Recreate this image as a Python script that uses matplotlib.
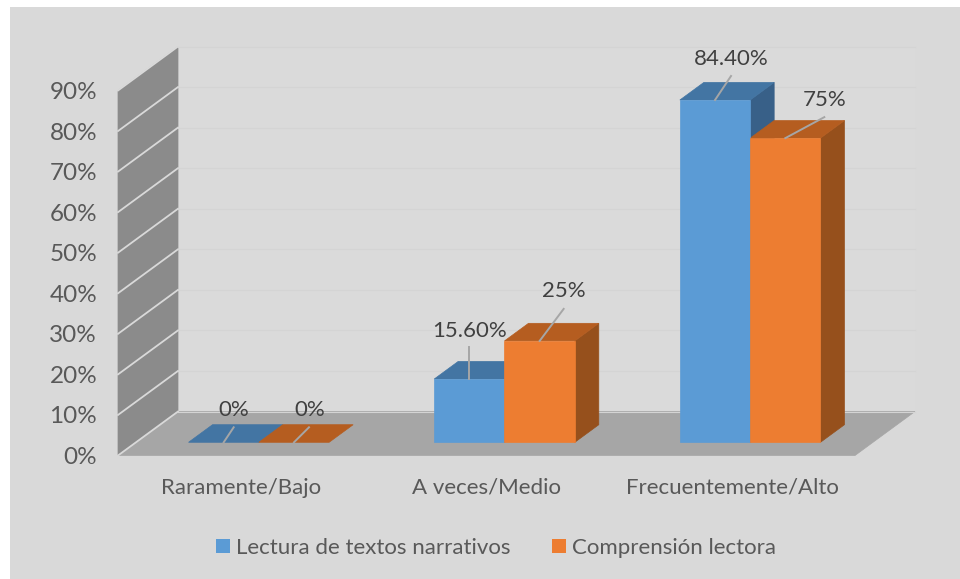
import numpy as np
import matplotlib
matplotlib.use('Agg')
import matplotlib.pyplot as plt
from matplotlib.patches import Polygon, Rectangle

# Data
categories = ['Raramente/Bajo', 'A veces/Medio', 'Frecuentemente/Alto']
lectura = [0, 15.6, 84.4]
comprension = [0, 25, 75]
lectura_labels = ['0%', '15.60%', '84.40%']
comprension_labels = ['0%', '25%', '75%']
y_ticks = [0, 10, 20, 30, 40, 50, 60, 70, 80, 90]
legend_names = ['Lectura de textos narrativos', 'Comprensión lectora']

W, H = 960, 579
BG = '#d9d9d9'
FS = 16
plt.rcParams['font.family'] = ['Lato', 'DejaVu Sans']

fig = plt.figure(figsize=(W / 100, H / 100), dpi=100, facecolor='white')

# gray card behind everything
fig.patches.append(Rectangle((10 / W, 0), 950 / W, 572 / H, transform=fig.transFigure,
                             facecolor=BG, edgecolor='none', zorder=-1))

# axes = front plane of the 3D box, in pixels
left, right, top, bottom = 118, 855, 90.5, 455.5
ax = fig.add_axes([left / W, 1 - bottom / H, (right - left) / W, (bottom - top) / H])
ax.set_xlim(0, 3)
ax.set_ylim(0, 90)
ax.patch.set_visible(False)
for s in ax.spines.values():
    s.set_visible(False)

PX = 3 / (right - left)
PY = 90 / (bottom - top)
DX = 60 * PX   # depth offset of the box
DY = 44 * PY


def proj(x, y, z):
    # oblique projection, z = 0 at front and 1 at back
    return (x + z * DX, y + z * DY)


def face(pts, color, zorder=2, **kw):
    ax.add_patch(Polygon(pts, closed=True, facecolor=color, edgecolor=color,
                         linewidth=0.5, clip_on=False, zorder=zorder, **kw))


# back wall, side wall, floor
face([proj(0, 0, 1), proj(3, 0, 1), proj(3, 90, 1), proj(0, 90, 1)], '#dadada', zorder=1)
face([proj(0, 0, 0), proj(0, 0, 1), proj(0, 90, 1), proj(0, 90, 0)], '#8b8b8b', zorder=1)
face([proj(0, 0, 0), proj(3, 0, 0), proj(3, 0, 1), proj(0, 0, 1)], '#a6a6a6', zorder=1)

for t in y_ticks:
    xs, ys = zip(proj(0, t, 0), proj(0, t, 1), proj(3, t, 1))
    ax.plot(xs[:2], ys[:2], color='#d9d9d9', lw=1.3, clip_on=False, zorder=1.5)
    ax.plot(xs[1:], ys[1:], color='#d4d4d4', lw=0.8, clip_on=False, zorder=1.5)

# bars
bar_w = 70.3 * PX
z0, z1 = 0.3, 0.7
series = [
    (lectura, -bar_w, '#5b9bd5', '#4375a3', '#386088'),
    (comprension, 0, '#ed7d31', '#b55d20', '#96501c'),
]
for i in range(3):
    cx = i + 0.5
    for vals, off, c_front, c_top, c_side in series:
        x0, x1 = cx + off, cx + off + bar_w
        v = vals[i]
        if v > 0:
            face([proj(x1, 0, z0), proj(x1, 0, z1), proj(x1, v, z1), proj(x1, v, z0)], c_side, zorder=3)
            face([proj(x0, 0, z0), proj(x1, 0, z0), proj(x1, v, z0), proj(x0, v, z0)], c_front, zorder=4)
        face([proj(x0, v, z0), proj(x1, v, z0), proj(x1, v, z1), proj(x0, v, z1)], c_top, zorder=3.5)

# data labels with leader lines, (dx, dy) in pixels from front top centre of the bar
blue_lead = [(10, 15), (0, 32), (16, 24)]
orange_lead = [(15, 15), (24, 32), (39, 21)]
blue_text = [(10, 32), (0, 48), (16, 41)]
orange_text = [(16, 32), (24, 50), (39, 38)]
for i in range(3):
    cx = i + 0.5
    groups = [(lectura, lectura_labels, -bar_w / 2, blue_lead, blue_text),
              (comprension, comprension_labels, bar_w / 2, orange_lead, orange_text)]
    for vals, labs, off, lead, txt in groups:
        sx, sy = proj(cx + off, vals[i], z0)
        ax.plot([sx, sx + lead[i][0] * PX], [sy, sy + lead[i][1] * PY], color='#a6a6a6', lw=1.4,
                clip_on=False, zorder=6)
        ax.text(sx + txt[i][0] * PX, sy + txt[i][1] * PY, labs[i], fontsize=FS, color='#404040',
                ha='center', va='center', zorder=7)

# axis tick labels
ax.set_yticks(y_ticks)
ax.set_yticklabels([f'{t}%' for t in y_ticks])
ax.set_xticks([0.5, 1.5, 2.5])
ax.set_xticklabels(categories)
ax.tick_params(axis='y', length=0, pad=15, labelsize=17.5, labelcolor='#595959')
ax.tick_params(axis='x', length=0, pad=16, labelsize=FS, labelcolor='#595959')

# legend
handles = [Rectangle((0, 0), 1, 1, facecolor='#5b9bd5'), Rectangle((0, 0), 1, 1, facecolor='#ed7d31')]
fig.legend(handles, legend_names, loc='center', bbox_to_anchor=(496 / W, 1 - 548 / H), ncol=2, frameon=False,
           fontsize=FS, labelcolor='#595959', handlelength=0.63, handleheight=0.63,
           handletextpad=0.27, columnspacing=1.9)

fig.savefig('out.png', dpi=100, facecolor='white')
